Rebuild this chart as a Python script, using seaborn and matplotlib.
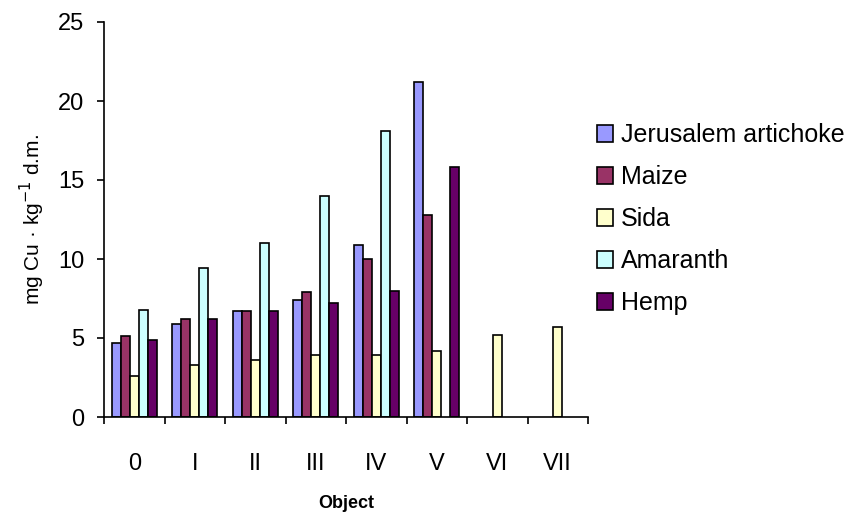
import numpy as np
import pandas as pd
import matplotlib
matplotlib.use("Agg")
import matplotlib.pyplot as plt
import seaborn as sns

objects = ["0", "I", "II", "III", "IV", "V", "VI", "VII"]
crops = ["Jerusalem artichoke", "Maize", "Sida", "Amaranth", "Hemp"]
jerusalem = [4.7, 5.9, 6.7, 7.4, 10.9, 21.2, np.nan, np.nan]
maize = [5.1, 6.2, 6.7, 7.9, 10.0, 12.8, np.nan, np.nan]
sida = [2.6, 3.3, 3.6, 3.9, 3.9, 4.2, 5.2, 5.7]
amaranth = [6.8, 9.4, 11.0, 14.0, 18.1, np.nan, np.nan, np.nan]
hemp = [4.9, 6.2, 6.7, 7.2, 8.0, 15.8, np.nan, np.nan]
colors = ["#9999FF", "#993366", "#FFFFCC", "#CCFFFF", "#660066"]

series = [jerusalem, maize, sida, amaranth, hemp]
rows = []
for crop, vals in zip(crops, series):
    for obj, v in zip(objects, vals):
        rows.append({"Object": obj, "Crop": crop, "Value": v})
df = pd.DataFrame(rows)

sns.set_style("white")
plt.rcParams["font.family"] = ["Liberation Sans", "DejaVu Sans"]
plt.rcParams["text.color"] = "black"
plt.rcParams["axes.labelcolor"] = "black"
plt.rcParams["xtick.color"] = "black"
plt.rcParams["ytick.color"] = "black"

fig = plt.figure(figsize=(8.59, 5.18), dpi=100)
ax = fig.add_axes([104 / 859, 1 - 417 / 518, 484 / 859, 395 / 518])

sns.barplot(data=df, x="Object", y="Value", hue="Crop", order=objects,
            hue_order=crops, palette=colors, width=0.75, edgecolor="black",
            linewidth=1.2, errorbar=None, ax=ax, saturation=1)

ax.set_ylim(0, 25)
ax.set_xlim(-0.5, 7.5)
ax.set_yticks([0, 5, 10, 15, 20, 25])
ax.tick_params(axis="y", direction="out", length=5, width=1.2, labelsize=17,
               left=True, pad=9)
ax.set_xticks(range(len(objects)))
ax.set_xticklabels(objects)
ax.tick_params(axis="x", which="major", length=0, labelsize=17, pad=26)
ax.set_xticks(np.arange(-0.5, 8.0, 1.0), minor=True)
ax.tick_params(axis="x", which="minor", direction="out", length=5, width=1.2,
               bottom=True)
for s in ["top", "right"]:
    ax.spines[s].set_visible(False)
for s in ["left", "bottom"]:
    ax.spines[s].set_color("black")
    ax.spines[s].set_linewidth(1.2)

ax.set_xlabel("Object", fontsize=13, fontweight="bold", labelpad=14)
ax.set_ylabel("mg Cu · kg$^{-1}$ d.m.", fontsize=15, labelpad=8)

handles, labels = ax.get_legend_handles_labels()
if ax.legend_:
    ax.legend_.remove()
fig.legend(handles, labels, loc="center left",
           bbox_to_anchor=(597 / 859, 1 - 219 / 518), frameon=False,
           fontsize=18, handlelength=0.65, handleheight=0.65,
           handletextpad=0.3, labelspacing=0.72, borderpad=0,
           borderaxespad=0)

fig.savefig("out.png", dpi=100)
